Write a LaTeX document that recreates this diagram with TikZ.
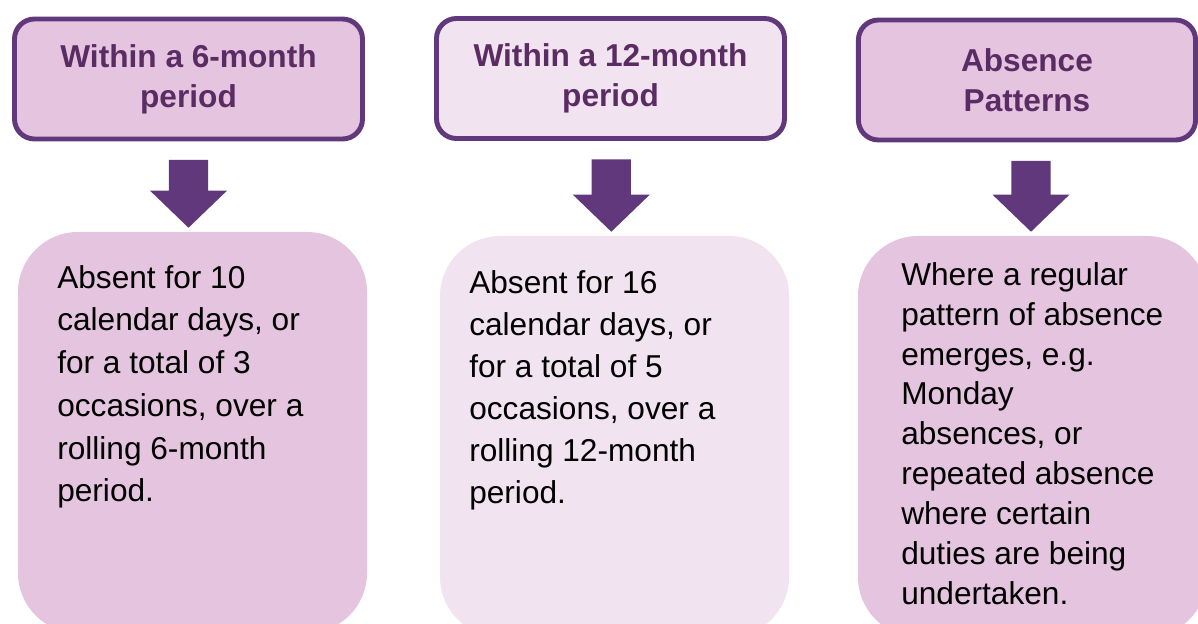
\documentclass[tikz,border=0pt]{standalone}
\usepackage{fontspec}
\setmainfont{Liberation Sans}
\usepackage{tikz}
\usetikzlibrary{calc}
\definecolor{dark_purple}{HTML}{60387B}
\definecolor{title_purple}{HTML}{5B2C64}
\definecolor{mauve}{HTML}{E4C4DE}
\definecolor{pale_mauve}{HTML}{F1E3EF}

\tikzset{
  headbox/.style={draw=dark_purple, line width=3.5pt, rounded corners=0.5cm,
    minimum width=8.7cm, minimum height=3cm, align=center, text=title_purple,
    font=\fontsize{22.5}{28.4}\selectfont\bfseries},
  bodybox/.style={rounded corners=1.5cm, minimum width=8.725cm, minimum height=10.025cm},
  bodytext/.style={anchor=north west, inner sep=0pt, align=left, text=black}
}

\begin{document}
\begin{tikzpicture}
        \clip (0,0) rectangle (29.95,15.575);
        % Titres
        \node[headbox, fill=mauve] (t1) at (4.7125,13.6) {Within a 6-month\\period};
        \node[headbox, fill=pale_mauve] (t2) at (15.2625,13.6125) {Within a 12-month\\period};
        \node[headbox, fill=mauve, minimum width=8.43cm] (t3) at (25.675,13.575) {Absence\\Patterns};
        % Cadres
        \node[bodybox, fill=mauve] (b1) at (4.8125,4.7625) {};
        \node[bodybox, fill=pale_mauve] (b2) at (15.3625,4.6625) {};
        \node[bodybox, fill=mauve] (b3) at (25.8125,4.6625) {};
        % Textes
        \node[bodytext, font=\fontsize{22.5}{30.4}\selectfont] (x1) at (1.425,8.95)
          {Absent for 10\\calendar days, or\\for a total of 3\\occasions, over a\\rolling 6-month\\period.};
        \node[bodytext, font=\fontsize{22.5}{29.9}\selectfont] (x2) at (11.725,8.825)
          {Absent for 16\\calendar days, or\\for a total of 5\\occasions, over a\\rolling 12-month\\period.};
        \node[bodytext, font=\fontsize{22.5}{28.4}\selectfont] (x3) at (22.525,9.025)
          {Where a regular\\pattern of absence\\emerges, e.g.\\Monday\\absences, or\\repeated absence\\where certain\\duties are being\\undertaken.};
        % Flèches
        \foreach \i/\dx in {1/0,2/0.02,3/0.1} {
          \coordinate (s\i) at ([xshift=\dx cm, yshift=-0.46cm]t\i.south);
          \coordinate (e\i) at (s\i |- b\i.north);
          \fill[dark_purple] ($(s\i)+(-0.49,0)$) -- ($(e\i)+(-0.49,1.025)$) -- ($(e\i)+(-0.96,1.025)$)
            -- ($(e\i)+(0,0.1)$) -- ($(e\i)+(0.96,1.025)$) -- ($(e\i)+(0.49,1.025)$) -- ($(s\i)+(0.49,0)$) -- cycle;
        }
\end{tikzpicture}
\end{document}
